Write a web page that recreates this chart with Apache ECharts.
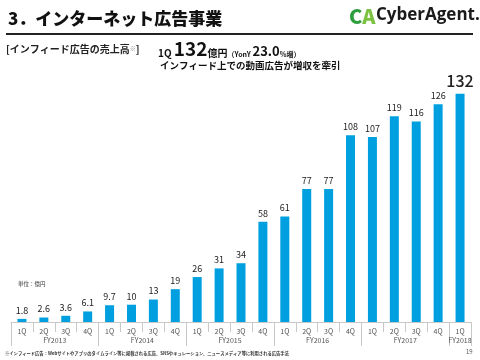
<!DOCTYPE html>
<html><head><meta charset="utf-8">
<script src="https://cdn.jsdelivr.net/npm/echarts@6/dist/echarts.min.js"></script>
<style>html,body{margin:0;padding:0;background:#fff}#c{width:480px;height:360px}</style>
</head><body><div id="c"></div>
<script>
const years = ['FY2013','FY2014','FY2015','FY2016','FY2017','FY2018'];
const quarters = ['1Q','2Q','3Q','4Q','1Q','2Q','3Q','4Q','1Q','2Q','3Q','4Q','1Q','2Q','3Q','4Q','1Q','2Q','3Q','4Q','1Q'];
const quarterYear = ['FY2013','FY2013','FY2013','FY2013','FY2014','FY2014','FY2014','FY2014','FY2015','FY2015','FY2015','FY2015','FY2016','FY2016','FY2016','FY2016','FY2017','FY2017','FY2017','FY2017','FY2018'];
const sales = [1.8,2.6,3.6,6.1,9.7,10,13,19,26,31,34,58,61,77,77,108,107,119,116,126,132];

const categories = quarters.map((q,i)=>quarterYear[i]+' '+q);
const yearCounts = years.map(y=>quarterYear.filter(v=>v===y).length);
const yearBounds=[0]; yearCounts.forEach(c=>yearBounds.push(yearBounds[yearBounds.length-1]+c));
const yearCenters = years.map((y,i)=>(yearBounds[i]+yearBounds[i+1])/2);

const FONT = '"Noto Sans CJK JP", "Noto Sans", sans-serif';
const chart = echarts.init(document.getElementById('c'), null, {renderer:'canvas'});
const lastIdx = sales.length-1;
chart.setOption({
  animation:false,
  textStyle:{fontFamily:FONT},
  grid:{left:11,right:9,top:80,bottom:38,containLabel:false},
  xAxis:[{
    type:'category', data:categories, position:'bottom',
    axisLine:{lineStyle:{color:'#c8c8c8',width:1}},
    axisTick:{show:true,interval:0,length:10,lineStyle:{color:'#c8c8c8'}},
    axisLabel:{interval:0,fontSize:7,color:'#555',margin:6,fontFamily:FONT,formatter:v=>v.split(' ')[1]}
  },{
    type:'value', min:0, max:quarters.length, position:'bottom',
    axisLine:{show:false}, splitLine:{show:false},
    axisTick:{show:true,length:24,customValues:yearBounds,lineStyle:{color:'#c8c8c8'}},
    axisLabel:{show:true,fontSize:7,color:'#555',margin:15,fontFamily:FONT,customValues:yearCenters,
      formatter:v=>{const i=yearCenters.indexOf(v);return i>=0?years[i]:'';}}
  }],
  yAxis:{type:'value',min:0,max:140,show:false,splitLine:{show:false}},
  series:[{
    type:'bar', xAxisIndex:0, barWidth:9,
    itemStyle:{color:'#00a0e0'},
    label:{show:true,position:'top',distance:4,fontSize:9,color:'#222',fontFamily:FONT},
    data:sales.map((v,i)=>i===lastIdx?{value:v,label:{fontSize:16,fontWeight:500,distance:5}}:v)
  }],
  graphic:[
    {type:'text',left:8,top:10,style:{text:'3．インターネット広告事業',font:'900 17px '+FONT,fill:'#111'}},
    {type:'line',shape:{x1:6,y1:34,x2:473,y2:34},style:{stroke:'#222',lineWidth:2}},
    {type:'text',left:349,top:6,style:{text:'{c|C}{a|A}',rich:{c:{font:'900 20px '+FONT,fill:'#2e9e3e'},a:{font:'900 20px '+FONT,fill:'#7cc242'}}}},
    {type:'text',left:376,top:7,style:{text:'CyberAgent.',font:'bold 17px "Open Sans", '+FONT,fill:'#1a1a1a'}},
    {type:'text',left:6,top:44,style:{text:'[インフィード広告の売上高{s|※}]',font:'bold 10px '+FONT,fill:'#222',rich:{s:{font:'bold 6px '+FONT,fill:'#888'}}}},
    {type:'text',left:158,top:39,style:{
      text:'{a|1Q }{b|132}{a|億円}{c|（YonY }{d|23.0}{c|%増）}',
      rich:{a:{font:'bold 10px '+FONT,fill:'#111',verticalAlign:'bottom'},
            b:{font:'bold 19px '+FONT,fill:'#111',verticalAlign:'bottom'},
            c:{font:'bold 7px '+FONT,fill:'#111',verticalAlign:'bottom'},
            d:{font:'bold 13px '+FONT,fill:'#111',verticalAlign:'bottom'}}}},
    {type:'text',left:160,top:61,style:{text:'インフィード上での動画広告が増収を牽引',font:'bold 9.5px '+FONT,fill:'#111'}},
    {type:'text',left:18,top:281,style:{text:'単位：億円',font:'5.5px '+FONT,fill:'#333'}},
    {type:'text',left:5,top:351,style:{text:'※インフィード広告：Webサイトやアプリのタイムライン等に掲載される広告。SNSやキュレーション、ニュースメディア等に利用される広告手法',font:'bold 4.3px '+FONT,fill:'#333'}},
    {type:'text',left:466,top:349,style:{text:'19',font:'6px '+FONT,fill:'#555'}}
  ]
});
</script></body></html>
